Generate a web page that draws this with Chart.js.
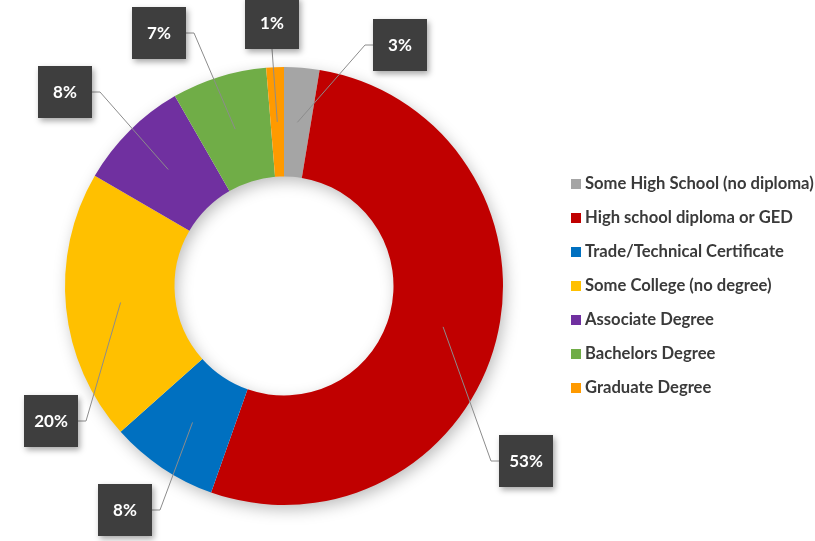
<!DOCTYPE html>
<html>
<head>
<meta charset="utf-8">
<script src="https://cdn.jsdelivr.net/npm/chart.js@4.4.1/dist/chart.umd.min.js"></script>
<style>
  body { margin: 0; background: #ffffff; }
  #wrap { width: 815px; height: 541px; position: relative; }
</style>
</head>
<body>
<div id="wrap"><canvas id="eduChart"></canvas></div>
<script>
// Education level shares (percent; labels show them rounded)
const categories = [
    'Some High School (no diploma)',
    'High school diploma or GED',
    'Trade/Technical Certificate',
    'Some College (no degree)',
    'Associate Degree',
    'Bachelors Degree',
    'Graduate Degree'
];
const shares = [2.6, 52.8, 8.0, 20.0, 8.3, 7.0, 1.3];
const sliceColors = ['#a5a5a5', '#c00000', '#0070c0', '#ffc000', '#7030a0', '#70ad47', '#ff9a00'];

// soft shadow under the ring
const ringShadow = {
    id: 'ringShadow',
    beforeDatasetsDraw(chart) {
        const arc = chart.getDatasetMeta(0).data[0];
        if (!arc) return;
        const ctx = chart.ctx;
        ctx.save();
        ctx.shadowColor = 'rgba(0,0,0,0.28)';
        ctx.shadowBlur = 16;
        ctx.shadowOffsetX = 3;
        ctx.shadowOffsetY = 5;
        ctx.fillStyle = '#ffffff';
        ctx.beginPath();
        ctx.arc(arc.x, arc.y, arc.outerRadius - 1, 0, Math.PI * 2);
        ctx.arc(arc.x, arc.y, arc.innerRadius + 1, 0, Math.PI * 2, true);
        ctx.fill();
        ctx.restore();
    }
};

// dark callout boxes with leader lines
const calloutLabels = {
    id: 'calloutLabels',
    afterDatasetsDraw(chart, args, opts) {
        const ctx = chart.ctx;
        const meta = chart.getDatasetMeta(0);
        const values = chart.data.datasets[0].data;
        meta.data.forEach((arc, i) => {
            const box = opts.boxes[i];
            const p = arc.tooltipPosition();
            const w = opts.boxW, h = opts.boxH;
            const left = box.x - w / 2, top = box.y - h / 2;

            // leader line
            ctx.save();
            ctx.strokeStyle = '#8c8c8c';
            ctx.lineWidth = 1;
            ctx.beginPath();
            ctx.moveTo(p.x, p.y);
            if (box.side === 'left') {
                ctx.lineTo(left - 8, box.y);
                ctx.lineTo(left, box.y);
            } else if (box.side === 'right') {
                ctx.lineTo(left + w + 8, box.y);
                ctx.lineTo(left + w, box.y);
            } else {
                ctx.lineTo(box.x, top + h);
            }
            ctx.stroke();
            ctx.restore();

            // box
            ctx.save();
            ctx.shadowColor = 'rgba(0,0,0,0.35)';
            ctx.shadowBlur = 6;
            ctx.shadowOffsetX = 2;
            ctx.shadowOffsetY = 3;
            ctx.fillStyle = '#3e3e3e';
            ctx.fillRect(left, top, w, h);
            ctx.restore();

            ctx.save();
            ctx.fillStyle = '#ffffff';
            ctx.font = 'bold 17px Lato, "Open Sans", sans-serif';
            ctx.textAlign = 'center';
            ctx.textBaseline = 'middle';
            ctx.fillText(Math.round(values[i]) + '%', box.x, box.y + 1);
            ctx.restore();
        });
    }
};

// legend on the right, clipped by the canvas edge like the original
const sideLegend = {
    id: 'sideLegend',
    afterDraw(chart, args, opts) {
        const ctx = chart.ctx;
        const colors = chart.data.datasets[0].backgroundColor;
        ctx.save();
        ctx.fillStyle = '#ffffff';
        ctx.fillRect(opts.x - 12, opts.y - 17, 300, opts.rowGap * chart.data.labels.length + 6);
        ctx.font = 'bold 16.6px Lato, "Open Sans", sans-serif';
        ctx.textBaseline = 'middle';
        chart.data.labels.forEach((label, i) => {
            const y = opts.y + i * opts.rowGap;
            ctx.fillStyle = colors[i];
            ctx.fillRect(opts.x, y - 5, 10, 10);
            ctx.fillStyle = '#3a3a3a';
            ctx.fillText(label, opts.x + 14, y);
        });
        ctx.restore();
    }
};

new Chart(document.getElementById('eduChart'), {
    type: 'doughnut',
    data: {
        labels: categories,
        datasets: [{
            data: shares,
            backgroundColor: sliceColors,
            borderWidth: 0
        }]
    },
    options: {
        responsive: true,
        maintainAspectRatio: false,
        animation: false,
        cutout: '50%',
        layout: {
            padding: { left: 65, top: 67, right: 312, bottom: 36 }
        },
        plugins: {
            legend: { display: false },
            tooltip: { enabled: false },
            calloutLabels: {
                boxW: 54,
                boxH: 52,
                boxes: [
                    { x: 400, y: 45, side: 'left' },
                    { x: 526, y: 461, side: 'left' },
                    { x: 125, y: 510, side: 'right' },
                    { x: 51, y: 421, side: 'right' },
                    { x: 65, y: 92, side: 'right' },
                    { x: 159, y: 33, side: 'right' },
                    { x: 272, y: 23, side: 'bottom' }
                ]
            },
            sideLegend: { x: 571, y: 184, rowGap: 34 }
        }
    },
    plugins: [ringShadow, calloutLabels, sideLegend]
});
</script>
</body>
</html>
